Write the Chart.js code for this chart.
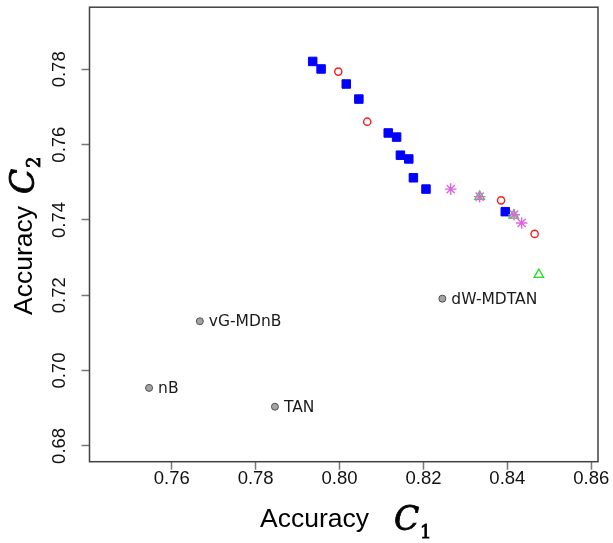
<!DOCTYPE html>
<html>
<head>
<meta charset="utf-8">
<script src="https://cdn.jsdelivr.net/npm/chart.js@4/dist/chart.umd.min.js"></script>
<style>
  html, body { margin: 0; padding: 0; background: #fff; }
</style>
</head>
<body>
<canvas id="chart" width="613" height="543"></canvas>
<script>
// labelled baselines (gray)
const refNames = ["nB", "vG-MDnB", "TAN", "dW-MDTAN"];
const refC1 = [0.7546, 0.7667, 0.7846, 0.8245];
const refC2 = [0.6954, 0.7131, 0.6904, 0.7191];

// blue squares
const squareC1 = [0.7936, 0.7956, 0.8016, 0.8046, 0.8116, 0.8136, 0.8145, 0.8165, 0.8176, 0.8206, 0.8395];
const squareC2 = [0.7821, 0.7801, 0.7761, 0.7721, 0.7631, 0.7620, 0.7572, 0.7562, 0.7512, 0.7482, 0.7422];

// red open circles
const circleC1 = [0.7997, 0.8066, 0.8385, 0.8465];
const circleC2 = [0.7794, 0.7661, 0.7452, 0.7363];

// violet asterisks
const starC1 = [0.8265, 0.8334, 0.8416, 0.8434];
const starC2 = [0.7482, 0.7462, 0.7414, 0.7392];

// green open triangles
const triC1 = [0.8334, 0.8415, 0.8475];
const triC2 = [0.7462, 0.7412, 0.7255];

// axes
const xRange = [0.7404, 0.8616];
const yRange = [0.6758, 0.7965];
const tickStep = 0.02;

const pts = (xs, ys) => xs.map((v, i) => ({ x: v, y: ys[i] }));

const tickFont = { family: '"Liberation Sans", Arial, sans-serif', size: 18.5, lineHeight: 1 };

// text drawn a little heavier, like the math glyphs in the original
function heavyText(ctx, s, x, y) {
  ctx.lineWidth = 0.8;
  ctx.strokeStyle = "#000";
  ctx.strokeText(s, x, y);
  ctx.fillText(s, x, y);
}

const decorations = {
  id: "decorations",
  afterDraw(chart) {
    const { ctx, chartArea: a, scales: { x, y } } = chart;
    ctx.save();

    // box round the plot
    ctx.strokeStyle = "#404040";
    ctx.lineWidth = 1.5;
    ctx.strokeRect(a.left, a.top, a.right - a.left, a.bottom - a.top);

    // point labels
    ctx.fillStyle = "#1a1a1a";
    ctx.font = '15.5px "DejaVu Sans"';
    ctx.textAlign = "left";
    ctx.textBaseline = "middle";
    refNames.forEach((n, i) => {
      ctx.fillText(n, x.getPixelForValue(refC1[i]) + 9, y.getPixelForValue(refC2[i]) + 1);
    });

    // x title: Accuracy  C1
    ctx.fillStyle = "#000";
    ctx.textBaseline = "alphabetic";
    ctx.font = '26.5px "Liberation Sans"';
    ctx.fillText("Accuracy", 260, 527);
    ctx.font = 'italic 33px "DejaVu Serif"';
    heavyText(ctx, "C", 394, 530);
    ctx.font = '18px "DejaVu Serif"';
    heavyText(ctx, "1", 420, 538);

    // y title: Accuracy C2 (rotated)
    ctx.translate(32, 315);
    ctx.rotate(-Math.PI / 2);
    ctx.font = '26.5px "Liberation Sans"';
    ctx.fillText("Accuracy", 0, 0);
    ctx.font = 'italic 33px "DejaVu Serif"';
    heavyText(ctx, "C", 121, 2);
    ctx.font = '18px "DejaVu Serif"';
    heavyText(ctx, "2", 147, 8);

    ctx.restore();
  }
};

new Chart(document.getElementById("chart"), {
  type: "scatter",
  data: {
    datasets: [
      {
        label: "baselines",
        data: pts(refC1, refC2),
        pointStyle: "circle",
        pointRadius: 3.5,
        backgroundColor: "#a3a3a3",
        borderColor: "#505050",
        borderWidth: 1
      },
      {
        label: "asterisks",
        data: pts(starC1, starC2),
        pointStyle: "star",
        pointRadius: 5.8,
        backgroundColor: "rgba(0,0,0,0)",
        borderColor: "#dd66dd",
        borderWidth: 1.4
      },
      {
        label: "triangles",
        data: pts(triC1, triC2),
        pointStyle: "triangle",
        pointRadius: 5.5,
        backgroundColor: "rgba(0,0,0,0)",
        borderColor: "#1ee01e",
        borderWidth: 1.3
      },
      {
        label: "circles",
        data: pts(circleC1, circleC2),
        pointStyle: "circle",
        pointRadius: 3.6,
        backgroundColor: "rgba(0,0,0,0)",
        borderColor: "#ff1a1a",
        borderWidth: 1.4
      },
      {
        label: "squares",
        data: pts(squareC1, squareC2),
        pointStyle: "rect",
        pointRadius: 6,
        backgroundColor: "#0000ff",
        borderColor: "#0000ff",
        borderWidth: 1
      }
    ]
  },
  options: {
    responsive: false,
    animation: false,
    events: [],
    layout: { padding: { top: 6, right: 15, left: 0, bottom: 0 } },
    plugins: { legend: { display: false }, tooltip: { enabled: false } },
    scales: {
      x: {
        type: "linear",
        min: xRange[0],
        max: xRange[1],
        border: { display: false },
        grid: { drawOnChartArea: false, drawTicks: true, tickLength: 8, tickColor: "#777", tickWidth: 1.5 },
        ticks: {
          stepSize: tickStep,
          includeBounds: false,
          padding: 0,
          color: "#111",
          font: tickFont,
          maxRotation: 0,
          callback: (v) => v.toFixed(2)
        },
        afterFit: (s) => { s.height = 81.3; s.paddingLeft = 0; s.paddingRight = 0; }
      },
      y: {
        type: "linear",
        min: yRange[0],
        max: yRange[1],
        border: { display: false },
        grid: { drawOnChartArea: false, drawTicks: true, tickLength: 8, tickColor: "#777", tickWidth: 1.5 },
        ticks: {
          stepSize: tickStep,
          includeBounds: false,
          padding: 4,
          crossAlign: "center",
          minRotation: 90,
          maxRotation: 90,
          color: "#111",
          font: tickFont,
          callback: (v) => v.toFixed(2)
        },
        afterFit: (s) => { s.width = 89.5; s.paddingTop = 0; s.paddingBottom = 0; }
      }
    }
  },
  plugins: [decorations]
});
</script>
</body>
</html>
